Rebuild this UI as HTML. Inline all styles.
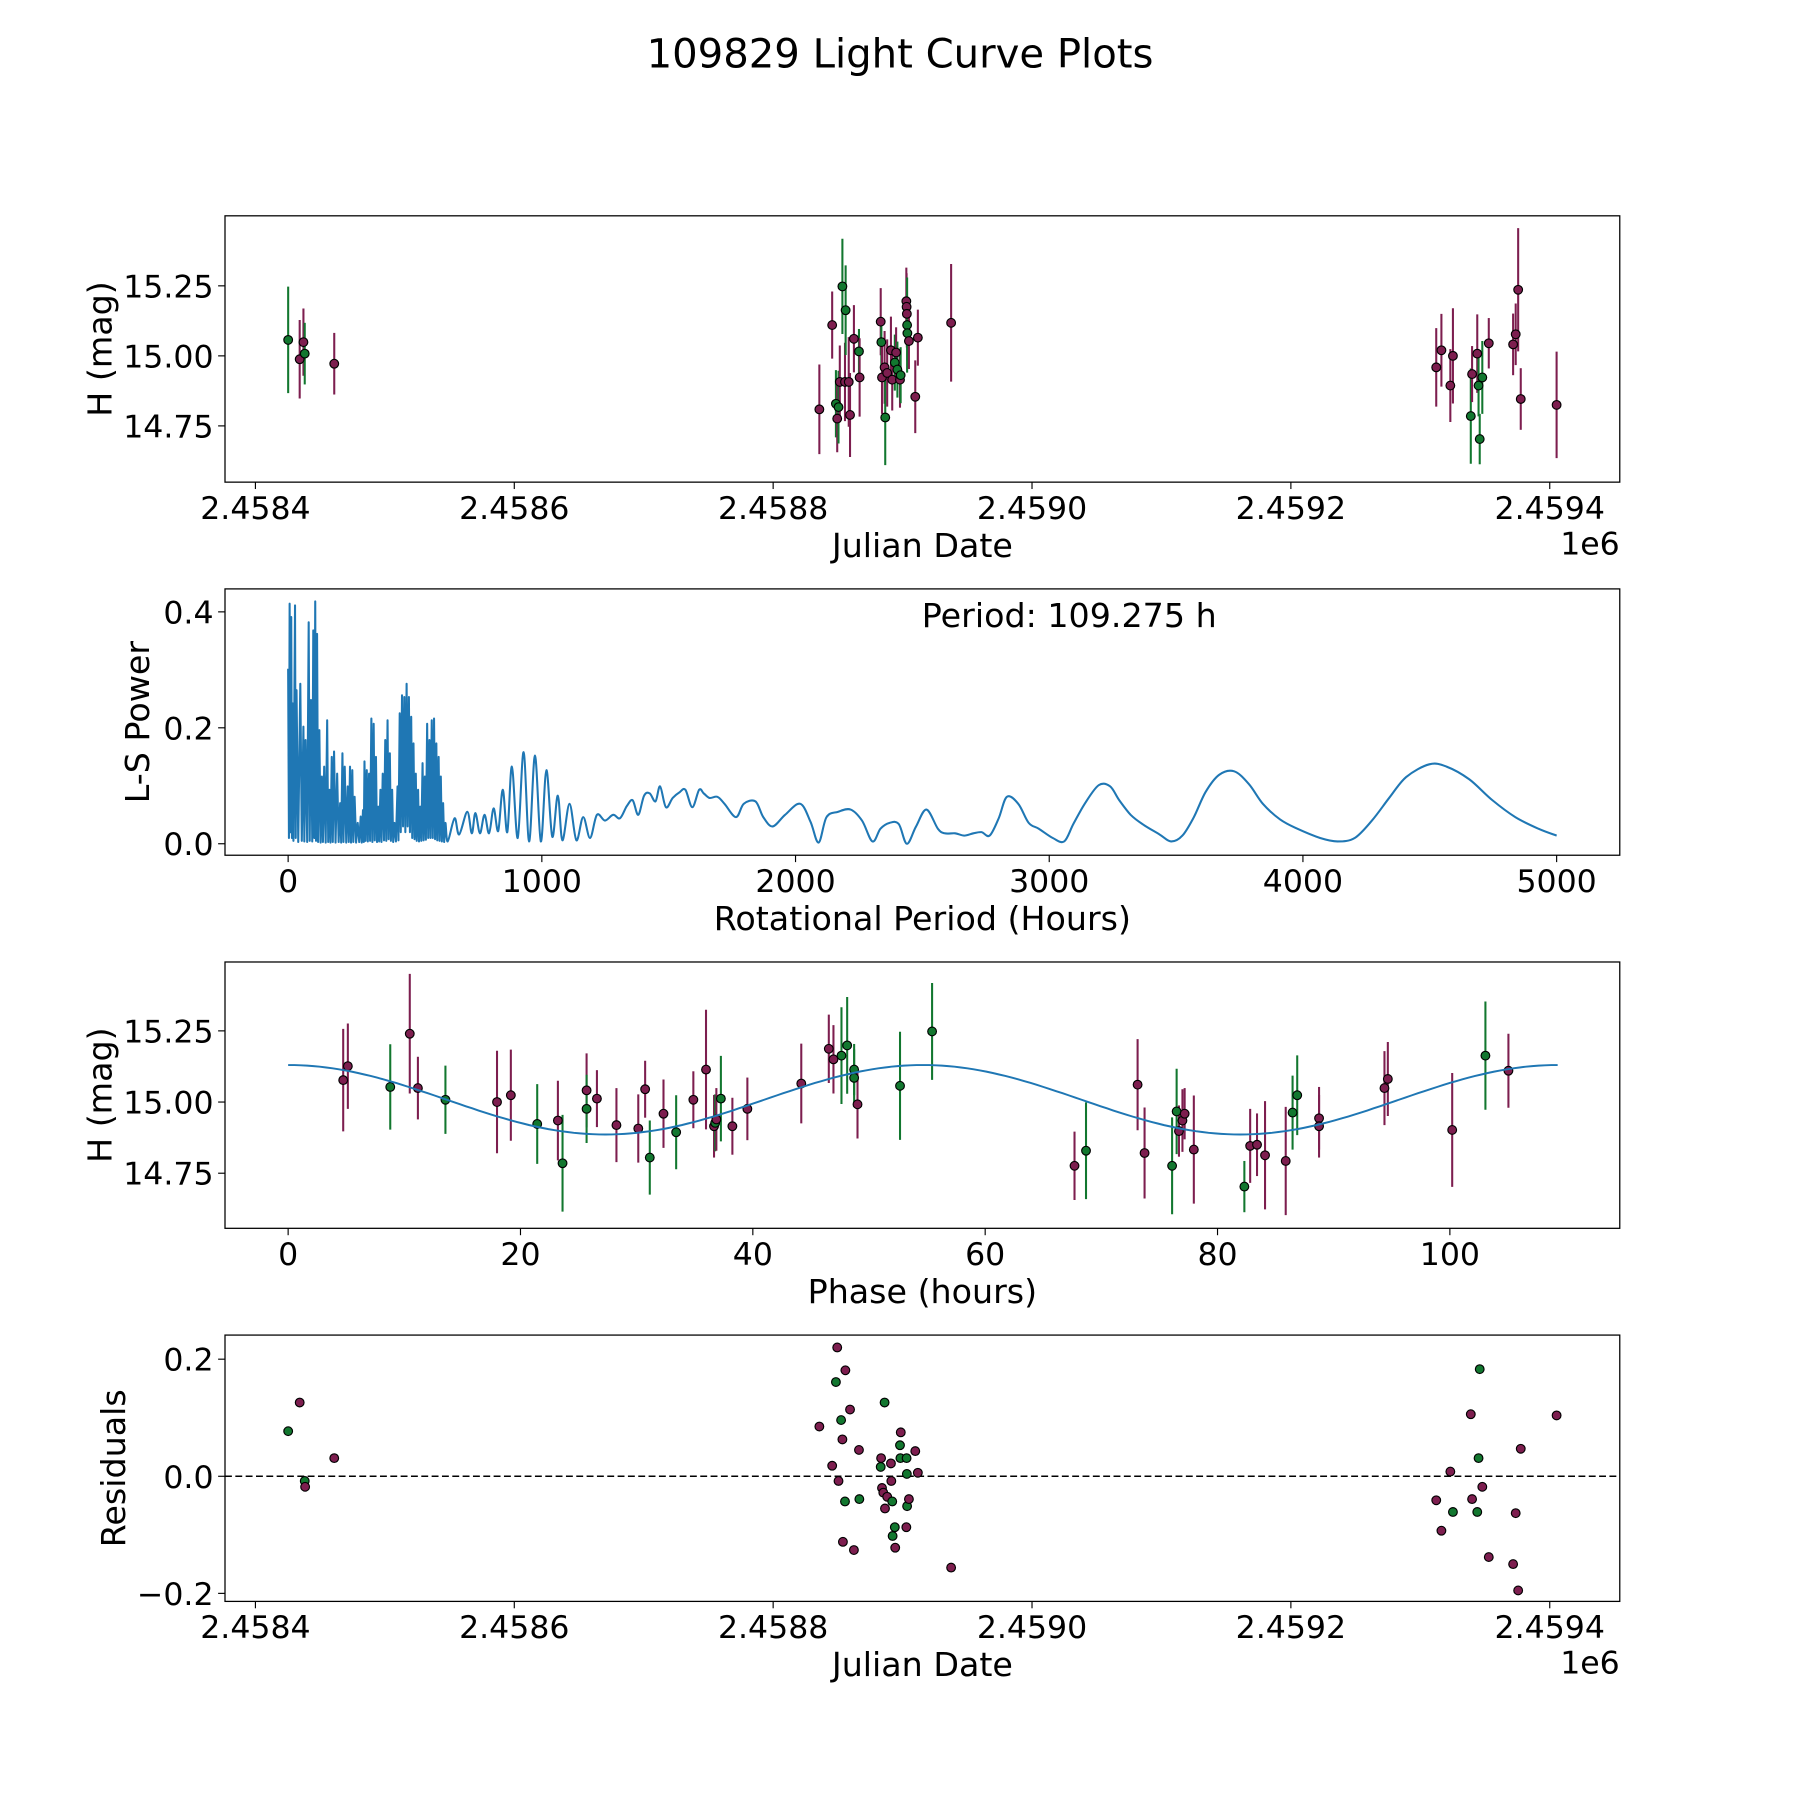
<!DOCTYPE html>
<html><head><meta charset="utf-8"><title>109829 Light Curve Plots</title>
<style>html,body{margin:0;padding:0;background:#fff}svg{display:block}text{font-family:"DejaVu Sans","Liberation Sans",sans-serif;fill:#000}</style>
</head><body>
<svg id="fig" width="1800" height="1800" viewBox="0 0 1568 1568" xmlns="http://www.w3.org/2000/svg">
<rect width="1568" height="1568" fill="#fff"/>
<text x="784" y="59" font-size="35" text-anchor="middle">109829 Light Curve Plots</text>
</svg>
<script>
// ---- data ----
const jdDates=[2458425.3,2458434.2,2458437.1,2458438.1,2458460.9,2458835.7,2458845.6,2458848.5,2458849.5,2458850.5,2458851.5,2458853.5,2458855.5,2458856.0,2458858.4,2458859.4,2458862.4,2458866.3,2458866.8,2458883.1,2458883.6,2458884.1,2458886.1,2458886.6,2458888.1,2458891.0,2458892.0,2458894.0,2458895.0,2458896.0,2458898.0,2458898.5,2458902.9,2458903.1,2458903.3,2458903.5,2458903.7,2458904.9,2458909.8,2458911.8,2458937.5,2459312.3,2459316.3,2459323.2,2459325.2,2459339.0,2459340.0,2459344.0,2459345.0,2459345.9,2459347.9,2459352.9,2459371.7,2459373.7,2459375.6,2459377.6,2459405.3];
const jdMags=[15.057,14.988,15.049,15.008,14.972,14.809,15.110,14.829,14.776,14.817,14.907,15.248,14.907,15.163,14.907,14.789,15.061,15.016,14.923,15.122,15.049,14.923,14.959,14.780,14.939,15.020,14.915,14.976,15.012,14.951,14.915,14.931,15.195,15.175,15.150,15.110,15.081,15.053,14.854,15.065,15.118,14.959,15.020,14.894,15.000,14.785,14.935,15.008,14.894,14.703,14.923,15.045,15.041,15.077,15.236,14.846,14.825];
const jdErrs=[0.19,0.14,0.12,0.11,0.11,0.16,0.12,0.12,0.12,0.13,0.13,0.17,0.14,0.16,0.16,0.15,0.12,0.08,0.14,0.12,0.09,0.13,0.13,0.17,0.12,0.12,0.11,0.10,0.09,0.10,0.10,0.10,0.12,0.12,0.12,0.17,0.10,0.10,0.13,0.10,0.21,0.14,0.13,0.13,0.17,0.17,0.10,0.14,0.11,0.09,0.13,0.09,0.11,0.11,0.22,0.11,0.19];
const jdFilters="gppgpppgpgpgpgpppgppgppgpppgpgpgpppggppppppppgppgggpppppp".split("");

const resDates=[2458425.3,2458434.2,2458438.1,2458438.4,2458460.9,2458835.7,2458845.6,2458848.5,2458849.5,2458850.5,2458852.5,2458853.5,2458855.5,2458855.8,2458853.9,2458859.4,2458862.4,2458866.3,2458866.6,2458883.1,2458883.4,2458884.1,2458885.1,2458886.1,2458886.4,2458888.1,2458891.0,2458891.3,2458892.0,2458892.3,2458894.0,2458894.3,2458898.0,2458898.3,2458898.6,2458902.9,2458903.1,2458903.3,2458903.5,2458904.9,2458909.8,2458911.8,2458937.5,2459312.3,2459316.3,2459323.2,2459325.2,2459339.0,2459340.0,2459344.0,2459345.0,2459345.9,2459347.9,2459352.9,2459371.7,2459373.7,2459377.6,2459375.6,2459405.3];
const residuals=[0.077,0.126,-0.008,-0.018,0.031,0.085,0.018,0.161,0.220,-0.008,0.096,0.063,-0.043,0.181,-0.112,0.114,-0.126,0.045,-0.039,0.016,0.031,-0.020,-0.028,0.126,-0.055,-0.035,0.022,-0.008,-0.043,-0.102,-0.087,-0.122,0.053,0.031,0.075,-0.087,0.031,0.004,-0.051,-0.039,0.043,0.006,-0.156,-0.041,-0.093,0.008,-0.061,0.106,-0.039,-0.061,0.031,0.183,-0.018,-0.138,-0.150,-0.063,0.047,-0.195,0.104];
const resFilters="gpgppppgppgpgpppppggpppgppppgggpggppgggpppppppgppgggpppppp".split("");

const phases=[4.74,5.14,8.79,10.47,11.17,13.54,17.98,19.17,21.44,23.22,23.62,25.69,25.69,26.58,28.26,30.14,30.73,31.13,32.31,33.40,34.88,35.97,36.66,36.76,36.86,37.25,38.24,39.53,44.17,46.54,46.94,47.63,48.12,48.72,48.72,49.01,52.67,55.43,67.69,68.68,73.12,73.72,76.09,76.48,76.68,76.98,77.17,77.96,82.31,82.81,83.40,84.09,85.87,86.46,86.86,88.74,88.74,94.37,94.66,100.20,103.06,105.04];
const phaseMags=[15.077,15.126,15.053,15.240,15.049,15.008,15.000,15.024,14.923,14.935,14.785,15.041,14.976,15.012,14.919,14.907,15.045,14.805,14.959,14.894,15.008,15.114,14.915,14.927,14.939,15.012,14.915,14.976,15.065,15.187,15.150,15.163,15.199,15.114,15.085,14.992,15.057,15.248,14.776,14.829,15.061,14.821,14.776,14.967,14.898,14.935,14.959,14.833,14.703,14.846,14.850,14.813,14.793,14.963,15.024,14.943,14.915,15.049,15.081,14.902,15.163,15.110];
const phaseErrs=[0.18,0.15,0.15,0.21,0.11,0.12,0.18,0.16,0.14,0.14,0.17,0.13,0.12,0.10,0.13,0.12,0.10,0.13,0.12,0.13,0.10,0.21,0.11,0.10,0.11,0.15,0.10,0.11,0.14,0.12,0.12,0.17,0.17,0.09,0.10,0.12,0.19,0.17,0.12,0.17,0.16,0.16,0.17,0.15,0.09,0.11,0.09,0.19,0.09,0.13,0.11,0.19,0.19,0.13,0.14,0.11,0.11,0.13,0.13,0.20,0.19,0.13];
const phaseFilters="ppgppgppgpgpgppppgpgpppgpgpppppggggpggpgppggppppgppppggpppppgp".split("");

const bestPeriod=109.275;
const modelMean=15.008;
const modelAmp=0.122;

const lsPeriods=[0,3,6,9,12,15,18,21,27,30,33,40,48,54,60,64,69,75,81,85,90,95,99,103,107,110,114,118,123,128,133,137,142,148,154,158,163,167,172,176,181,187,193,199,205,209,214,218,223,229,235,239,244,248,253,257,262,268,274,280,286,290,295,298,301,305,310,314,319,323,328,332,337,341,346,350,355,359,364,368,373,378,383,387,392,396,401,405,410,414,419,425,431,435,440,444,449,453,458,462,467,471,476,480,485,489,494,498,503,507,512,516,521,525,530,534,539,543,548,552,557,561,566,570,575,579,584,588,593,597,602,606,611,615,620,629,656,674,706,724,738,756,774,792,810,828,846,864,882,905,928,950,973,996,1018,1041,1063,1081,1109,1136,1163,1190,1217,1249,1281,1308,1335,1358,1380,1403,1425,1448,1466,1489,1516,1543,1566,1593,1620,1638,1661,1692,1720,1765,1796,1842,1873,1910,1959,2018,2059,2091,2122,2167,2217,2262,2303,2335,2371,2407,2439,2475,2516,2561,2588,2629,2665,2701,2733,2765,2801,2833,2878,2919,2959,3014,3059,3095,3140,3195,3240,3276,3321,3367,3435,3480,3525,3570,3616,3670,3729,3787,3842,3910,3978,4068,4136,4204,4272,4340,4407,4498,4566,4656,4747,4837,4928,5000];
const lsPowers=[0.302,0.01,0.414,0.02,0.391,0.01,0.242,0.005,0.411,0.01,0.265,0.003,0.276,0.005,0.202,0.004,0.179,0.003,0.382,0.005,0.248,0.004,0.368,0.01,0.418,0.005,0.362,0.003,0.196,0.002,0.116,0.003,0.133,0.002,0.213,0.003,0.093,0.002,0.150,0.003,0.159,0.002,0.121,0.003,0.070,0.002,0.156,0.003,0.133,0.002,0.099,0.003,0.133,0.002,0.127,0.003,0.081,0.002,0.036,0.003,0.047,0.002,0.058,0.003,0.142,0.005,0.127,0.004,0.121,0.005,0.216,0.003,0.207,0.006,0.150,0.003,0.064,0.004,0.093,0.003,0.121,0.006,0.179,0.005,0.213,0.008,0.156,0.005,0.093,0.003,0.036,0.004,0.099,0.006,0.225,0.02,0.256,0.03,0.253,0.02,0.276,0.03,0.253,0.02,0.219,0.01,0.173,0.008,0.121,0.005,0.093,0.004,0.064,0.005,0.139,0.006,0.116,0.007,0.207,0.01,0.179,0.01,0.213,0.01,0.216,0.008,0.173,0.006,0.150,0.005,0.116,0.004,0.070,0.003,0.036,0.004,0.044,0.016,0.055,0.018,0.053,0.018,0.050,0.018,0.061,0.022,0.093,0.020,0.133,0.010,0.158,0.004,0.152,0.004,0.127,0.012,0.083,0.006,0.069,0.006,0.046,0.010,0.050,0.040,0.050,0.044,0.065,0.075,0.050,0.083,0.087,0.073,0.099,0.063,0.079,0.089,0.093,0.063,0.093,0.087,0.079,0.081,0.069,0.046,0.069,0.073,0.046,0.030,0.050,0.069,0.038,0.002,0.046,0.055,0.059,0.040,0.004,0.026,0.036,0.034,0.000,0.030,0.059,0.026,0.018,0.018,0.014,0.018,0.020,0.014,0.044,0.081,0.069,0.036,0.026,0.010,0.004,0.034,0.069,0.101,0.099,0.075,0.050,0.034,0.016,0.004,0.014,0.046,0.089,0.119,0.125,0.103,0.069,0.042,0.026,0.010,0.004,0.010,0.040,0.079,0.115,0.137,0.133,0.111,0.075,0.046,0.026,0.014];

const jdTicks=[2458400,2458600,2458800,2459000,2459200,2459400];
const jdTickLabels=["2.4584","2.4586","2.4588","2.4590","2.4592","2.4594"];
const magTicks=[14.75,15.00,15.25];
const magTickLabels=["14.75","15.00","15.25"];
const lsXTicks=[0,1000,2000,3000,4000,5000];
const lsYTicks=[0.0,0.2,0.4];
const lsYTickLabels=["0.0","0.2","0.4"];
const phaseTicks=[0,20,40,60,80,100];
const resTicks=[-0.2,0.0,0.2];
const resTickLabels=["\u22120.2","0.0","0.2"];

// ---- helpers ----
const NS="http://www.w3.org/2000/svg";
const svg=document.getElementById("fig");
const PURPLE="#7d1e4f", GREEN="#12772f", BLUE="#1f77b4";
const TICKFS=27.5, LABFS=29;
function mk(tag,attrs,parent){const e=document.createElementNS(NS,tag);for(const k in attrs)e.setAttribute(k,attrs[k]);(parent||svg).appendChild(e);return e;}
function lin(d0,d1,r0,r1){return v=>r0+(v-d0)*(r1-r0)/(d1-d0);}
const L=196,R=1411;

function frame(name){
  const g=mk("g",{});
  
  
  return g;
}
function border(g,top,bot){
  const r=mk("rect",{x:L,y:top,width:R-L,height:bot-top,fill:"none",stroke:"#000","stroke-width":1.1},g);
  
  
}
function xTicks(g,vals,labels,sx,bot){
  vals.forEach((v,i)=>{
    const x=sx(v);
    const t=mk("line",{x1:x,x2:x,y1:bot,y2:bot+6,stroke:"#000","stroke-width":1},g);
    
    
    const tx=mk("text",{x:x,y:bot+32,"font-size":TICKFS,"text-anchor":"middle"},g);
    tx.textContent=labels[i];
    
    
  });
}
function yTicks(g,vals,labels,sy){
  vals.forEach((v,i)=>{
    const y=sy(v);
    const t=mk("line",{x1:L-6,x2:L,y1:y,y2:y,stroke:"#000","stroke-width":1},g);
    
    
    const tx=mk("text",{x:L-10,y:y+10,"font-size":TICKFS,"text-anchor":"end"},g);
    tx.textContent=labels[i];
    
    
  });
}
function xLabel(g,txt,y){
  const t=mk("text",{x:(L+R)/2,y:y,"font-size":LABFS,"text-anchor":"middle"},g);
  t.textContent=txt;
  
  
}
function yLabel(g,txt,x,cy){
  const t=mk("text",{x:x,y:cy,"font-size":LABFS,"text-anchor":"middle",transform:`rotate(-90 ${x} ${cy})`},g);
  t.textContent=txt;
  
  
}
function offsetLabel(g,y){
  const t=mk("text",{x:R,y:y,"font-size":TICKFS,"text-anchor":"end"},g);
  t.textContent="1e6";
  
  
}
function errPoints(g,xs,ys,es,fs,sx,sy){
  xs.forEach((v,i)=>{
    const c=fs[i]==="g"?GREEN:PURPLE;
    const b=mk("line",{x1:sx(v),x2:sx(v),y1:sy(ys[i]-es[i]),y2:sy(ys[i]+es[i]),stroke:c,"stroke-width":1.8},g);
    
    
  });
  xs.forEach((v,i)=>{
    const c=fs[i]==="g"?GREEN:PURPLE;
    const p=mk("circle",{cx:sx(v),cy:sy(ys[i]),r:3.8,fill:c,stroke:"#000","stroke-width":1},g);
    
    
  });
}
const jdScale=lin(2458400,2459400,222.5,1350);

// ---- panel 1: light curve vs JD ----
(function(){
  const top=188,bot=420;
  const sx=jdScale, sy=lin(15.0,15.25,310,249);
  const g=frame("light-curve-panel");
  errPoints(g,jdDates,jdMags,jdErrs,jdFilters,sx,sy);
  border(g,top,bot);
  xTicks(g,jdTicks,jdTickLabels,sx,bot);
  yTicks(g,magTicks,magTickLabels,sy);
  xLabel(g,"Julian Date",485);
  offsetLabel(g,483);
  yLabel(g,"H (mag)",97,(top+bot)/2);
})();

// ---- panel 2: periodogram ----
(function(){
  const top=513,bot=745;
  const sx=lin(0,5000,251,1356), sy=lin(0,0.4,735,533);
  const g=frame("periodogram-panel");
  const pts=lsPeriods.map((p,i)=>[sx(p),sy(lsPowers[i])]);
  let d="M"+pts[0][0].toFixed(1)+" "+pts[0][1].toFixed(1);
  for(let i=1;i<pts.length;i++){
    if(lsPeriods[i]<=620){d+="L"+pts[i][0].toFixed(1)+" "+pts[i][1].toFixed(1);continue;}
    const p0=pts[i-2]||pts[i-1],p1=pts[i-1],p2=pts[i],p3=pts[i+1]||pts[i];
    const c1x=p1[0]+(p2[0]-p0[0])/6,c1y=p1[1]+(p2[1]-p0[1])/6;
    const c2x=p2[0]-(p3[0]-p1[0])/6,c2y=p2[1]-(p3[1]-p1[1])/6;
    d+=`C${c1x.toFixed(1)} ${c1y.toFixed(1)} ${c2x.toFixed(1)} ${c2y.toFixed(1)} ${p2[0].toFixed(1)} ${p2[1].toFixed(1)}`;
  }
  const path=mk("path",{d:d,fill:"none",stroke:BLUE,"stroke-width":1.8,"stroke-linejoin":"round"},g);
  
  
  border(g,top,bot);
  xTicks(g,lsXTicks,lsXTicks.map(String),sx,bot);
  yTicks(g,lsYTicks,lsYTickLabels,sy);
  xLabel(g,"Rotational Period (Hours)",810);
  yLabel(g,"L-S Power",130,(top+bot)/2);
  const t=mk("text",{x:803,y:546,"font-size":LABFS},g);
  t.textContent="Period: "+bestPeriod+" h";
  
  
})();

// ---- panel 3: phased light curve ----
(function(){
  const top=838,bot=1070;
  const sx=lin(0,100,251,1263), sy=lin(15.0,15.25,960,898);
  const g=frame("phase-panel");
  let d="";
  for(let k=0;k<=200;k++){
    const ph=bestPeriod*k/200;
    const m=modelMean+modelAmp*Math.cos(4*Math.PI*ph/bestPeriod);
    d+=(k?"L":"M")+sx(ph).toFixed(1)+" "+sy(m).toFixed(1);
  }
  errPoints(g,phases,phaseMags,phaseErrs,phaseFilters,sx,sy);
  const path=mk("path",{d:d,fill:"none",stroke:BLUE,"stroke-width":1.7},g);
  
  
  border(g,top,bot);
  xTicks(g,phaseTicks,phaseTicks.map(String),sx,bot);
  yTicks(g,magTicks,magTickLabels,sy);
  xLabel(g,"Phase (hours)",1135);
  yLabel(g,"H (mag)",97,(top+bot)/2);
})();

// ---- panel 4: residuals ----
(function(){
  const top=1163,bot=1395;
  const sx=jdScale, sy=lin(0,0.2,1286,1184);
  const g=frame("residuals-panel");
  const z=mk("line",{x1:L,x2:R,y1:sy(0),y2:sy(0),stroke:"#000","stroke-width":1.3,"stroke-dasharray":"6 3"},g);
  
  
  resDates.forEach((v,i)=>{
    const c=resFilters[i]==="g"?GREEN:PURPLE;
    const p=mk("circle",{cx:sx(v),cy:sy(residuals[i]),r:3.8,fill:c,stroke:"#000","stroke-width":1},g);
    
    
  });
  border(g,top,bot);
  xTicks(g,jdTicks,jdTickLabels,sx,bot);
  yTicks(g,resTicks,resTickLabels,sy);
  xLabel(g,"Julian Date",1460);
  offsetLabel(g,1458);
  yLabel(g,"Residuals",109,(top+bot)/2);
})();
</script>
</body></html>
